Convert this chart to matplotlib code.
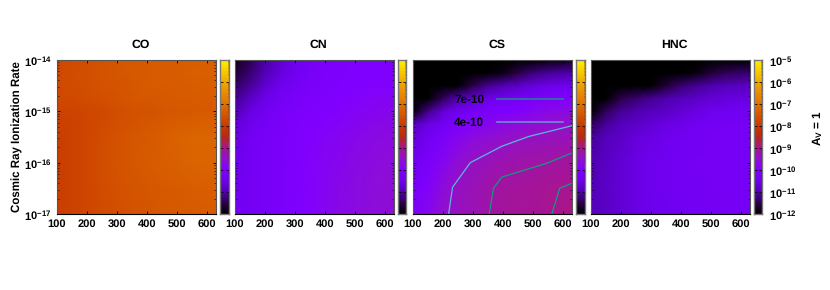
#!/usr/bin/env python3

import numpy as np
import matplotlib
matplotlib.use('Agg')
import matplotlib.pyplot as plt
from matplotlib.colors import LinearSegmentedColormap, LogNorm
from matplotlib.ticker import LogLocator, NullFormatter

plt.rcParams['font.family'] = ['Liberation Sans', 'DejaVu Sans']
plt.rcParams['font.weight'] = 'bold'
plt.rcParams['mathtext.fontset'] = 'custom'
plt.rcParams['mathtext.bf'] = 'Liberation Sans:bold'
plt.rcParams['mathtext.rm'] = 'Liberation Sans:bold'
plt.rcParams['text.hinting'] = 'none'

temps = [100, 150, 200, 250, 300, 350, 400, 450, 500, 550, 630]
zeta_exp = [-17, -16.5, -16, -15.5, -15.25, -15, -14.75, -14.5, -14.25, -14]

# log10 abundance, rows run from zeta 1e-17 up to 1e-14
co = [
    [-7.90, -7.82, -7.74, -7.66, -7.60, -7.54, -7.50, -7.46, -7.43, -7.40, -7.38],
    [-7.90, -7.82, -7.74, -7.64, -7.56, -7.50, -7.46, -7.42, -7.38, -7.34, -7.32],
    [-7.90, -7.84, -7.74, -7.62, -7.54, -7.46, -7.40, -7.34, -7.28, -7.24, -7.22],
    [-7.90, -7.84, -7.76, -7.64, -7.56, -7.48, -7.42, -7.34, -7.26, -7.20, -7.20],
    [-7.88, -7.84, -7.76, -7.66, -7.58, -7.52, -7.46, -7.40, -7.34, -7.30, -7.28],
    [-7.84, -7.80, -7.76, -7.68, -7.62, -7.56, -7.52, -7.48, -7.44, -7.42, -7.40],
    [-7.72, -7.68, -7.64, -7.58, -7.54, -7.48, -7.44, -7.42, -7.40, -7.38, -7.36],
    [-7.68, -7.64, -7.60, -7.54, -7.50, -7.44, -7.40, -7.38, -7.36, -7.34, -7.32],
    [-7.68, -7.64, -7.58, -7.52, -7.48, -7.42, -7.38, -7.36, -7.34, -7.32, -7.30],
    [-7.70, -7.66, -7.60, -7.54, -7.48, -7.44, -7.40, -7.38, -7.36, -7.34, -7.32],
]
cn = [
    [-10.45, -10.35, -10.25, -10.15, -10.05, -9.95, -9.85, -9.75, -9.68, -9.62, -9.55],
    [-10.45, -10.35, -10.25, -10.15, -10.05, -9.95, -9.85, -9.75, -9.68, -9.62, -9.55],
    [-10.50, -10.35, -10.25, -10.15, -10.05, -9.95, -9.88, -9.80, -9.72, -9.66, -9.58],
    [-10.60, -10.40, -10.25, -10.15, -10.05, -9.98, -9.90, -9.84, -9.78, -9.72, -9.66],
    [-10.70, -10.50, -10.30, -10.18, -10.08, -10.00, -9.95, -9.90, -9.84, -9.78, -9.72],
    [-10.95, -10.62, -10.40, -10.25, -10.12, -10.05, -10.00, -9.95, -9.90, -9.85, -9.80],
    [-11.15, -10.85, -10.55, -10.35, -10.20, -10.10, -10.05, -10.00, -9.95, -9.92, -9.88],
    [-11.35, -11.10, -10.75, -10.50, -10.30, -10.15, -10.08, -10.04, -10.00, -9.98, -9.95],
    [-11.60, -11.30, -10.95, -10.65, -10.42, -10.25, -10.12, -10.06, -10.03, -10.00, -9.98],
    [-11.80, -11.45, -11.05, -10.75, -10.50, -10.30, -10.15, -10.08, -10.05, -10.02, -10.00],
]
cs = [
    [-10.10, -9.80, -9.50, -9.35, -9.27, -9.16, -9.10, -9.07, -9.05, -9.01, -8.96],
    [-10.25, -9.95, -9.62, -9.40, -9.30, -9.20, -9.12, -9.08, -9.06, -9.03, -9.00],
    [-10.45, -10.15, -9.85, -9.55, -9.40, -9.32, -9.25, -9.20, -9.17, -9.15, -9.08],
    [-10.65, -10.40, -10.15, -9.85, -9.65, -9.55, -9.47, -9.42, -9.38, -9.35, -9.30],
    [-10.90, -10.60, -10.40, -10.15, -9.95, -9.82, -9.70, -9.62, -9.55, -9.50, -9.42],
    [-12.00, -11.20, -10.70, -10.45, -10.30, -10.15, -10.05, -9.95, -9.85, -9.75, -9.65],
    [-12.00, -12.00, -11.40, -10.95, -10.70, -10.55, -10.40, -10.30, -10.20, -10.10, -10.00],
    [-12.00, -12.00, -12.00, -12.00, -11.50, -11.15, -10.95, -10.80, -10.65, -10.55, -10.45],
    [-12.00, -12.00, -12.00, -12.00, -12.00, -12.00, -11.85, -11.50, -11.25, -11.10, -11.00],
    [-12.00, -12.00, -12.00, -12.00, -12.00, -12.00, -12.00, -12.00, -12.00, -11.90, -11.75],
]
hnc = [
    [-10.90, -10.80, -10.70, -10.60, -10.55, -10.50, -10.45, -10.40, -10.40, -10.35, -10.35],
    [-10.95, -10.80, -10.70, -10.60, -10.50, -10.45, -10.40, -10.40, -10.35, -10.30, -10.30],
    [-11.00, -10.85, -10.70, -10.60, -10.50, -10.45, -10.40, -10.35, -10.30, -10.30, -10.30],
    [-11.10, -10.90, -10.80, -10.65, -10.60, -10.50, -10.45, -10.40, -10.35, -10.30, -10.30],
    [-11.40, -11.10, -10.90, -10.80, -10.70, -10.60, -10.55, -10.45, -10.40, -10.35, -10.35],
    [-12.00, -11.40, -11.10, -11.00, -10.90, -10.80, -10.70, -10.60, -10.50, -10.45, -10.40],
    [-12.00, -12.00, -11.50, -11.30, -11.15, -11.00, -10.90, -10.80, -10.70, -10.65, -10.60],
    [-12.00, -12.00, -12.00, -12.00, -12.00, -11.60, -11.30, -11.15, -11.00, -10.90, -10.85],
    [-12.00, -12.00, -12.00, -12.00, -12.00, -12.00, -12.00, -11.90, -11.60, -11.40, -11.30],
    [-12.00, -12.00, -12.00, -12.00, -12.00, -12.00, -12.00, -12.00, -12.00, -12.00, -12.00],
]

species = ['CO', 'CN', 'CS', 'HNC']
grids = [co, cn, cs, hnc]

# CS contour lines
line_4e10_t = [220, 233, 292, 397, 486, 630]
line_4e10_z = [-17, -16.48, -16.0, -15.68, -15.49, -15.28]
line_7e10a_t = [355, 369, 397, 547, 630]
line_7e10a_z = [-17, -16.5, -16.28, -16.01, -15.81]
line_7e10b_t = [563, 589, 630]
line_7e10b_z = [-17, -16.5, -16.4]

cmap_logs = [-12, -11.5, -11, -10.5, -10, -9.5, -9, -8.5, -8, -7, -6, -5]
cmap_cols = ['#000000', '#2a0048', '#5000b0', '#7000f0', '#8000ff', '#9010d0',
             '#a81590', '#b82818', '#c83800', '#e07000', '#f0a800', '#fff000']
cmap = LinearSegmentedColormap.from_list(
    'abund', [((v + 12) / 7, c) for v, c in zip(cmap_logs, cmap_cols)], N=256)
norm = LogNorm(1e-12, 1e-5)

FW, FH = 830, 290
panel_left = [56.5, 234.5, 412.5, 590.5]
bar_left = [220, 397.5, 576, 753.5]
PANEL_W, BAR_W = 159.5, 8.5
TOP, BOTTOM = 60, 214


def axes_px(left, width):
    return [left / FW, 1 - BOTTOM / FH, width / FW, (BOTTOM - TOP) / FH]


def exp_label(e):
    return r'$\mathbf{10^{%d}}$' % e


def style_frame(ax, default='#555555'):
    for name, spine in ax.spines.items():
        spine.set_linewidth(0.8)
        spine.set_color('black' if name == 'bottom' else default)


fig = plt.figure(figsize=(FW / 100, FH / 100), dpi=100)

zeta = 10.0 ** np.array(zeta_exp)
bar_edges = np.logspace(-12, -5, 257)
bar_values = np.sqrt(bar_edges[:-1] * bar_edges[1:])[:, None]

for i, name in enumerate(species):
    ax = fig.add_axes(axes_px(panel_left[i], PANEL_W))
    ax.pcolormesh(temps, zeta, 10.0 ** np.array(grids[i]), cmap=cmap, norm=norm,
                  shading='gouraud', rasterized=True)
    ax.set_yscale('log')
    ax.set_xlim(100, 630)
    ax.set_ylim(1e-17, 1e-14)
    ax.set_xticks([100, 200, 300, 400, 500, 600])
    ax.yaxis.set_major_locator(LogLocator(base=10, numticks=6))
    ax.yaxis.set_minor_locator(LogLocator(base=10, subs=range(2, 10), numticks=6))
    ax.yaxis.set_minor_formatter(NullFormatter())
    ax.tick_params(which='major', direction='in', top=True, right=True, length=2.5,
                   width=0.6, labelsize=8, pad=3.5)
    ax.tick_params(which='minor', direction='in', left=True, right=True, length=1.2, width=0.4)
    if i == 0:
        ax.set_yticks([1e-17, 1e-16, 1e-15, 1e-14],
                      [exp_label(e) for e in [-17, -16, -15, -14]])
        ax.set_ylabel('Cosmic Ray Ionization Rate', fontsize=8.3, fontweight='bold', labelpad=0.5)
    else:
        ax.set_yticklabels([])
    ax.set_title(name, fontsize=8.8, fontweight='bold', pad=9, x=0.528)
    style_frame(ax)

    if name == 'CS':
        ax.plot(line_4e10_t, 10.0 ** np.array(line_4e10_z), color='#58b8e0', lw=0.9)
        ax.plot(line_7e10a_t, 10.0 ** np.array(line_7e10a_z), color='#109a80', lw=0.9)
        ax.plot(line_7e10b_t, 10.0 ** np.array(line_7e10b_z), color='#109a80', lw=0.9)
        h1, = ax.plot([], [], color='#2a7a9a', lw=1.2, label='7e-10')
        h2, = ax.plot([], [], color='#7088e0', lw=1.2, label='4e-10')
        ax.legend(handles=[h1, h2], loc='upper left', bbox_to_anchor=(0.262, 0.775),
                  frameon=False, markerfirst=False, labelspacing=0.98,
                  handlelength=5.6, handletextpad=1.05, borderpad=0, borderaxespad=0,
                  prop={'family': 'Liberation Sans', 'weight': 'bold', 'size': 8.5})

    cax = fig.add_axes(axes_px(bar_left[i], BAR_W))
    cax.pcolormesh([0, 1], bar_edges, bar_values, cmap=cmap, norm=norm, rasterized=True)
    cax.set_yscale('log')
    cax.set_ylim(1e-12, 1e-5)
    cax.set_xticks([])
    cax.yaxis.tick_right()
    cax.yaxis.set_major_locator(LogLocator(base=10, numticks=10))
    cax.yaxis.set_minor_locator(LogLocator(base=10, subs=range(2, 10), numticks=10))
    cax.yaxis.set_minor_formatter(NullFormatter())
    cax.tick_params(which='major', direction='in', left=True, right=True, length=2, width=0.6,
                    labelsize=8, pad=5)
    cax.tick_params(which='minor', direction='in', left=False, right=True, length=1, width=0.3)
    if i == 3:
        cax.set_yticks([10.0 ** e for e in range(-12, -4)],
                       [exp_label(e) for e in range(-12, -4)])
    else:
        cax.set_yticklabels([])
    for spine in cax.spines.values():
        spine.set_color('#777777')
        spine.set_linewidth(1.0)

fig.text(818 / FW, 1 - 128 / FH, r'$\mathbf{A_V}$ = 1', rotation=90, fontsize=8.5,
         fontweight='bold', ha='center', va='center')

fig.savefig('out.png', dpi=100)
